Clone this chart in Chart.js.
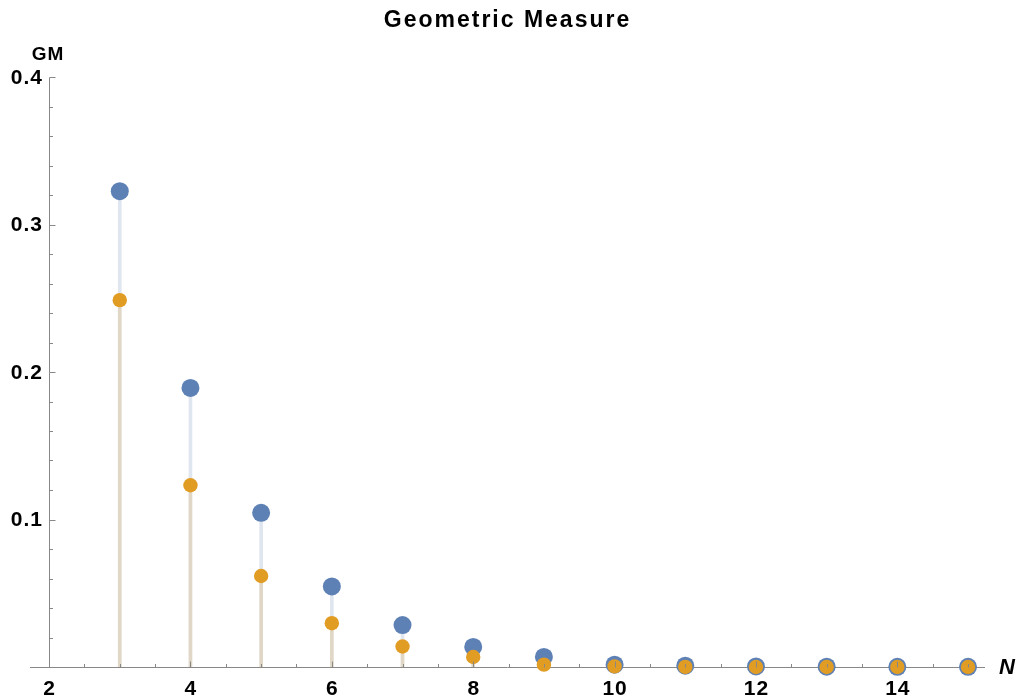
<!DOCTYPE html>
<html>
<head>
<meta charset="utf-8">
<script src="https://cdn.jsdelivr.net/npm/chart.js@4/dist/chart.umd.min.js"></script>
<style>
  html, body { margin: 0; padding: 0; background: #ffffff; }
  #wrap { width: 1019px; height: 698px; }
</style>
</head>
<body>
<div id="wrap"><canvas id="c" width="1019" height="698"></canvas></div>
<script>
// ---- data ----
const nValues = [3, 4, 5, 6, 7, 8, 9, 10, 11, 12, 13, 14, 15];
const gmBlue = [0.3226, 0.1892, 0.1045, 0.0546, 0.0284, 0.0136, 0.0068, 0.0016, 0.0009, 0.0004, 0.0002, 0.0001, 0.0001];
const gmOrange = [0.2487, 0.1232, 0.0617, 0.0297, 0.0139, 0.0068, 0.0016, 0.0004, 0.0001, 0.0000, 0.0000, 0.0000, 0.0000];
const xTickValues = [2, 4, 6, 8, 10, 12, 14];
const xTickLabels = ['2', '4', '6', '8', '10', '12', '14'];
const yTickValues = [0.1, 0.2, 0.3, 0.4];
const yTickLabels = ['0.1', '0.2', '0.3', '0.4'];
const titleText = 'Geometric Measure';
const xAxisLabel = 'N';
const yAxisLabel = 'GM';

// ---- styles ----
const BLUE = 'rgb(94,129,181)';
const ORANGE = 'rgb(225,156,36)';
const BLUE_STEM = 'rgba(94,129,181,0.2)';
const ORANGE_STEM = 'rgba(225,156,36,0.2)';
const AXIS = '#888888';
const FONT = "'Liberation Sans', Arial, sans-serif";

const toXY = (arr) => nValues.map((n, i) => ({ x: n, y: arr[i] }));

const axesPlugin = {
  id: 'mmaAxes',
  beforeDraw(chart) {
    chart.ctx.letterSpacing = '2px';
  },
  beforeDatasetsDraw(chart) {
    const { ctx, chartArea, scales } = chart;
    ctx.letterSpacing = '0px';
    const xs = scales.x, ys = scales.y;
    const x0 = Math.round(xs.getPixelForValue(2)) + 0.5;
    const y0 = Math.round(ys.getPixelForValue(0)) + 0.5;
    ctx.save();
    ctx.strokeStyle = AXIS;
    ctx.lineWidth = 1;
    ctx.beginPath();
    ctx.moveTo(chartArea.left, y0);
    ctx.lineTo(chartArea.right, y0);
    ctx.moveTo(x0, y0);
    ctx.lineTo(x0, Math.round(ys.getPixelForValue(0.4)) + 0.5);
    ctx.stroke();
    ctx.restore();
  },
  afterDatasetsDraw(chart) {
    const { ctx, scales } = chart;
    const xs = scales.x, ys = scales.y;
    const x0 = Math.round(xs.getPixelForValue(2)) + 0.5;
    const y0 = Math.round(ys.getPixelForValue(0)) + 0.5;
    ctx.save();
    ctx.strokeStyle = AXIS;
    ctx.lineWidth = 1;
    ctx.beginPath();
    // x ticks (inward, upward)
    for (let k = 4; k <= 30; k++) {
      const v = k / 2;
      if (v > xs.max) break;
      const px = Math.round(xs.getPixelForValue(v)) + 0.5;
      const major = xTickValues.includes(v);
      ctx.moveTo(px, y0);
      ctx.lineTo(px, y0 - (major ? 6 : 3.5));
    }
    // y ticks (inward, rightward)
    for (let k = 1; k <= 20; k++) {
      const v = k * 0.02;
      const py = Math.round(ys.getPixelForValue(v)) + 0.5;
      const major = (k % 5 === 0);
      ctx.moveTo(x0, py);
      ctx.lineTo(x0 + (major ? 6 : 3.5), py);
    }
    ctx.stroke();

    // tick labels
    ctx.fillStyle = '#000000';
    ctx.font = 'bold 21px ' + FONT;
    ctx.letterSpacing = '1px';
    ctx.textAlign = 'center';
    ctx.textBaseline = 'middle';
    xTickValues.forEach((v, i) => {
      ctx.fillText(xTickLabels[i], xs.getPixelForValue(v) + 0.5, 689);
    });
    ctx.textAlign = 'right';
    yTickValues.forEach((v, i) => {
      ctx.fillText(yTickLabels[i], 43, ys.getPixelForValue(v) + 1);
    });
    // axis labels
    ctx.font = 'bold 19px ' + FONT;
    ctx.textAlign = 'center';
    ctx.fillText(yAxisLabel, 48, 55);
    ctx.font = 'italic bold 22px ' + FONT;
    ctx.textAlign = 'left';
    ctx.fillText(xAxisLabel, 999, 668);
    ctx.restore();
    ctx.letterSpacing = '0px';
  }
};

new Chart(document.getElementById('c'), {
  type: 'scatter',
  data: {
    datasets: [
      { type: 'bar', label: 'stem1', data: toXY(gmBlue), backgroundColor: BLUE_STEM, borderWidth: 0, barThickness: 3, grouped: false, order: 3, clip: false },
      { type: 'bar', label: 'stem2', data: toXY(gmOrange), backgroundColor: ORANGE_STEM, borderWidth: 0, barThickness: 3, grouped: false, order: 2, clip: false },
      { type: 'scatter', label: 'GM1', data: toXY(gmBlue), backgroundColor: BLUE, borderWidth: 0, pointRadius: 9, order: 1, clip: false },
      { type: 'scatter', label: 'GM2', data: toXY(gmOrange), backgroundColor: ORANGE, borderWidth: 0, pointRadius: 7.2, order: 0, clip: false }
    ]
  },
  options: {
    responsive: false,
    animation: false,
    layout: { padding: { left: 30, right: 34, top: 0, bottom: 31 } },
    plugins: {
      legend: { display: false },
      tooltip: { enabled: false },
      title: {
        display: true,
        text: titleText,
        color: '#000000',
        font: { family: FONT, size: 23, weight: 'bold' },
        padding: { top: 7, bottom: 42.4 }
      }
    },
    scales: {
      x: { type: 'linear', min: 1.73, max: 15.24, offset: false, display: false },
      y: { type: 'linear', min: 0, max: 0.4, offset: false, display: false }
    }
  },
  plugins: [axesPlugin]
});
</script>
</body>
</html>
